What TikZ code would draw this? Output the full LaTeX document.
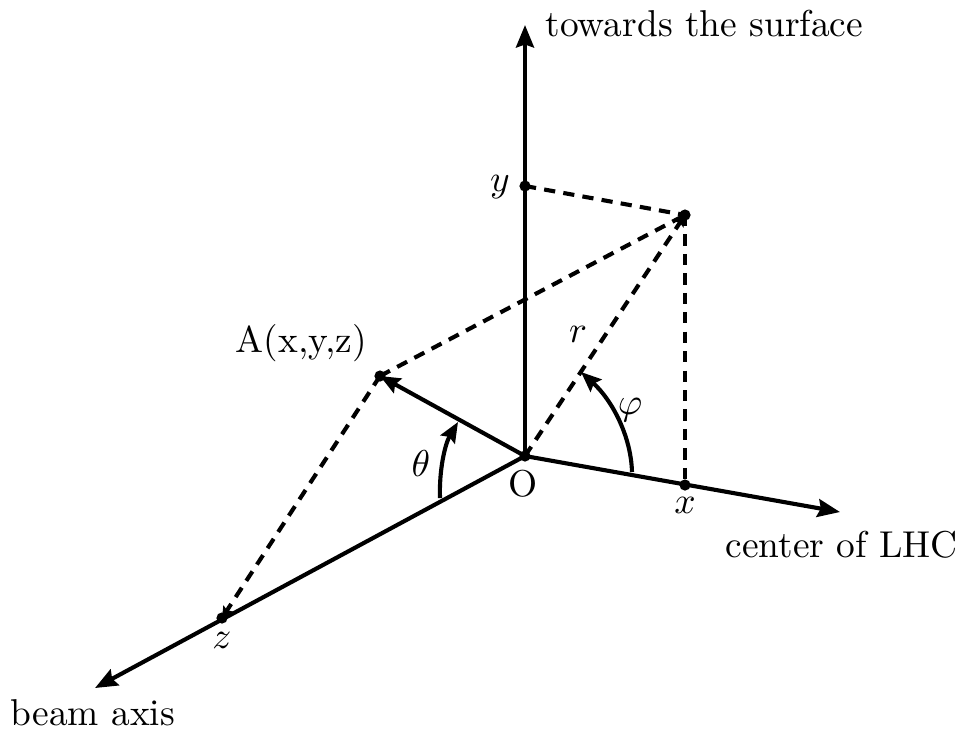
\documentclass[tikz,border=0pt]{standalone}
\usetikzlibrary{arrows.meta}
\begin{document}
\begin{tikzpicture}[x=0.2674pt,y=-0.2674pt,
  axis/.style={line width=1.1pt,-{Stealth[length=6pt,width=4.8pt,inset=0.8pt]}},
  vec/.style={line width=1.1pt,-{Stealth[length=5.4pt,width=4.4pt,inset=0.8pt]}},
  dline/.style={line width=1.1pt,dash pattern=on 3pt off 2.2pt},
  darr/.style={dline,-{Stealth[length=3pt,width=3pt,inset=0.5pt]}},
  dot/.style={circle,fill,inner sep=0pt,minimum size=3pt},
  lbl/.style={inner sep=0pt}]
\useasboundingbox (0,0) rectangle (963,731);
% points
\coordinate (O) at (525,456);
\node[dot] (Od) at (O) {};
\node[dot] (Y) at (525,186) {};
\node[dot] (P) at (685,215) {};
\node[dot] (X) at (685,485) {};
\node[dot] (Z) at (222,618) {};
\node[dot] (A) at (380,376) {};
\coordinate (ytip) at (525,25);
\coordinate (xtip) at (840,512);
\coordinate (ztip) at (95,688);
% axes
\draw[axis] (O) -- (ytip);
\draw[axis] (O) -- (xtip);
\draw[axis] (O) -- (ztip);
% dashed
\draw[dline] (Y.center) -- (P.center);
\draw[dline] (P.center) -- (X.center);
\draw[dline] (A.center) -- (P.center);
\draw[darr] (O) -- (P.center);
\draw[darr] (A.center) -- (Z.center);
% vector
\draw[vec] (O) -- (A.center);
% angles
\coordinate (th0) at (440,498);
\coordinate (th1) at (458,422);
\draw[vec] (th0) .. controls (439,470) and (445,444) .. (th1);
\coordinate (ph0) at (632,472);
\coordinate (ph1) at (581,372);
\draw[vec] (ph0) .. controls (631,436) and (612,400) .. (ph1);
% labels
\node[lbl,anchor=base west] (tsurf) at (545,36) {towards the surface};
\node[lbl,anchor=base west] (clhc) at (725,557) {center of LHC};
\node[lbl,anchor=base west] (beam) at (10,725) {beam axis};
\node[lbl,anchor=base west] (Al) at (235,352) {A(x,y,z)};
\node[lbl] (Ol) at (523,484) {O};
\node[lbl] (yl) at (500,187) {$y$};
\node[lbl] (xl) at (685,505) {$x$};
\node[lbl] (zl) at (222,640) {$z$};
\node[lbl] (rl) at (578,334) {$r$};
\node[lbl] (thl) at (421,463) {$\theta$};
\node[lbl] (phl) at (630,410) {$\varphi$};
\end{tikzpicture}
\end{document}
